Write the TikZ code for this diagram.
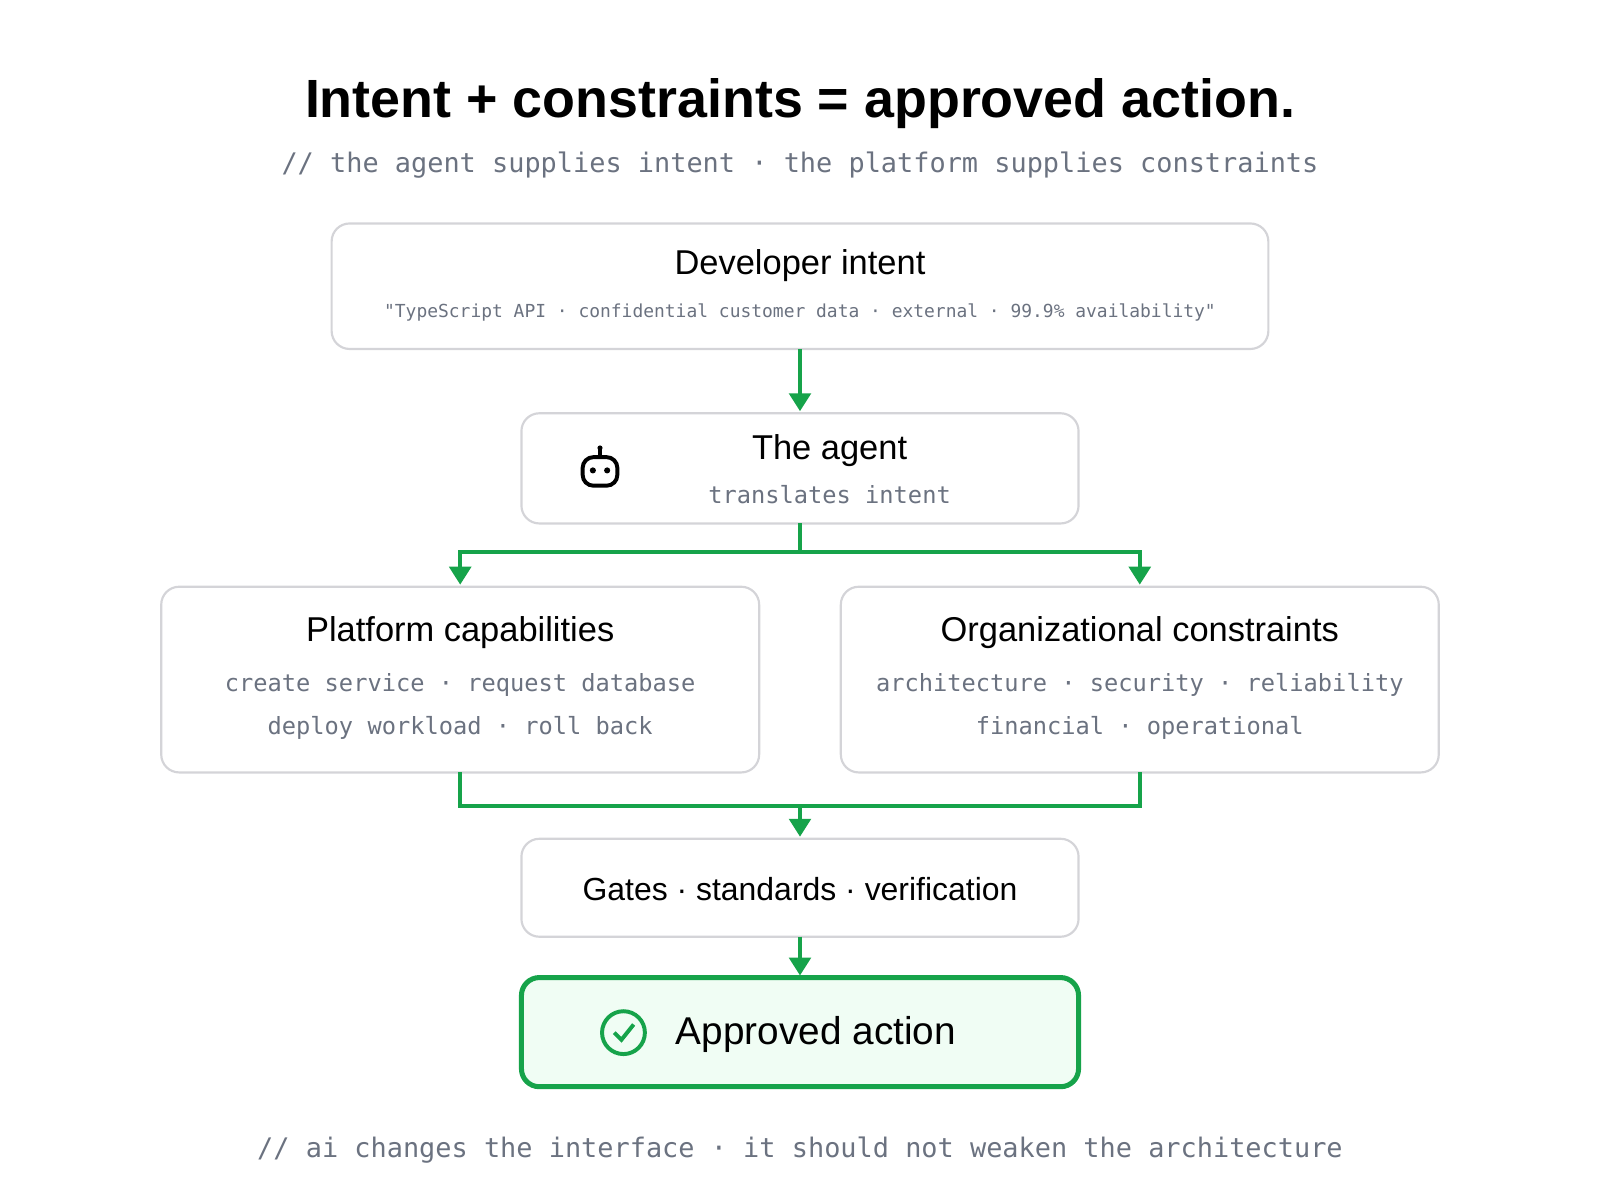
\documentclass[tikz,border=0pt]{standalone}
\usepackage{fontspec}
\setmainfont{Liberation Sans}
\setmonofont{DejaVu Sans Mono}
\usetikzlibrary{calc,positioning,arrows.meta}
\definecolor{gline}{HTML}{16A34A}
\definecolor{gfill}{HTML}{F0FDF4}
\definecolor{bline}{HTML}{D4D4D8}
\definecolor{mute}{HTML}{6B7280}
\begin{document}
\begin{tikzpicture}[x=0.01cm,y=-0.01cm,
    box/.style={draw=bline,line width=0.6pt,rounded corners=5pt,fill=white},
    head/.style={font=\fontsize{9.6}{11}\selectfont},
    sub/.style={font=\ttfamily\fontsize{6.6}{12}\selectfont,text=mute,align=center},
    flow/.style={draw=gline,line width=1.1pt,-{Triangle[length=5pt,width=6pt]}},
    link/.style={draw=gline,line width=1.1pt}]
      \useasboundingbox (0,0) rectangle (1568,1176);
      % title
      \node[font=\bfseries\fontsize{15}{18}\selectfont] (title) at (784,102) {Intent + constraints = approved action.};
      \node[font=\ttfamily\fontsize{7.5}{9}\selectfont,text=mute] (tag) at (784,162) {// the agent supplies intent · the platform supplies constraints};
      % boxes
      \draw[box] (325,219) rectangle (1243,342);
      \node[head] (dev) at (784,260) {Developer intent};
      \node[font=\ttfamily\fontsize{5.0}{7}\selectfont,text=mute] (devq) at (784,306) {"TypeScript API · confidential customer data · external · 99.9\% availability"};
      \draw[box] (511,405) rectangle (1057,513);
      \node[head] (agent) at (813,442) {The agent};
      \node[sub] (agentq) at (813,485) {translates intent};
      \begin{scope}[shift={(588,460)},line width=1.1pt]
        \draw[rounded corners=3pt] (-17,-12) rectangle (17,16);
        \draw (0,-12) -- (0,-20);
        \fill (0,-21) circle (2.5);
        \fill (-7,1) circle (3) (7,1) circle (3);
      \end{scope}
      \draw[box] (158,575) rectangle (744,757);
      \node[head] (plat) at (451,620) {Platform capabilities};
      \node[sub] (platq) at (451,692) {create service · request database\\deploy workload · roll back};
      \draw[box] (824,575) rectangle (1410,757);
      \node[head] (org) at (1117,620) {Organizational constraints};
      \node[sub] (orgq) at (1117,692) {architecture · security · reliability\\financial · operational};
      \draw[box] (511,822) rectangle (1057,918);
      \node[head,font=\fontsize{8.9}{11}\selectfont] (gates) at (784,871) {Gates · standards · verification};
      \draw[box,draw=gline,fill=gfill,line width=1.4pt] (511,958) rectangle (1057,1065);
      \node[font=\fontsize{10.8}{13}\selectfont,anchor=west] (ok) at (650,1014) {Approved action};
      \draw[gline,line width=1.1pt] (611,1012) circle (21);
      \draw[gline,line width=1.1pt] (602,1012) -- (609,1019) -- (621,1004);
      % connectors
      \coordinate (c1) at (784,342);
      \coordinate (c2) at (784,403);
      \draw[flow] (c1) -- (c2);
      \draw[link] (784,513) -- (784,541);
      \draw[flow] (784,541) -| (451,573);
      \draw[flow] (784,541) -| (1117,573);
      \draw[link] (451,757) |- (1117,790) -- (1117,757);
      \draw[flow] (784,790) -- (784,820);
      \draw[flow] (784,918) -- (784,956);
      % footer
      \node[font=\ttfamily\fontsize{7.5}{9}\selectfont,text=mute] (foot) at (784,1127) {// ai changes the interface · it should not weaken the architecture};
    \end{tikzpicture}
\end{document}
